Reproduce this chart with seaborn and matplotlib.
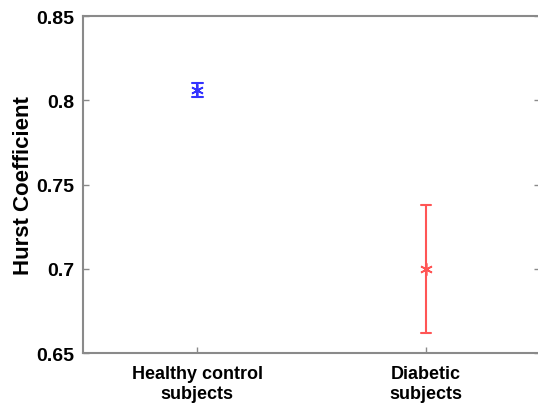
import matplotlib
matplotlib.use("Agg")
import matplotlib.pyplot as plt
import seaborn as sns
import pandas as pd

groups = ["Healthy control\nsubjects", "Diabetic\nsubjects"]
means = [0.806, 0.700]
errs = [0.004, 0.038]
colors = ["#3333ff", "#ff5555"]
yticks = [0.65, 0.70, 0.75, 0.80, 0.85]
ytick_labels = ["0.65", "0.7", "0.75", "0.8", "0.85"]
ylabel = "Hurst Coefficient"

# build a table whose mean is the group value and whose min/max are the error limits
rows = []
for g, m, e in zip(groups, means, errs):
    rows.append({"group": g, "value": m - e})
    rows.append({"group": g, "value": m + e})
df = pd.DataFrame(rows)

sns.set_theme(style="white")
plt.rcParams["font.family"] = ["Liberation Sans", "DejaVu Sans"]
plt.rcParams["text.color"] = "black"
plt.rcParams["axes.labelcolor"] = "black"
plt.rcParams["xtick.color"] = "black"
plt.rcParams["ytick.color"] = "black"

fig = plt.figure(figsize=(5.38, 4.06), dpi=100)
ax = fig.add_axes([83 / 538, 52 / 406, (540.5 - 83) / 538, 337 / 406])

sns.pointplot(
    data=df, x="group", y="value", hue="group", order=groups, hue_order=groups,
    palette=colors, estimator="mean",
    errorbar=lambda v: (v.min(), v.max()),
    markers="o", linestyles="none", capsize=0.045,
    err_kws={"linewidth": 1.5},
    legend=False, ax=ax,
)

# MATLAB-style asterisk markers
for ln in ax.lines:
    if ln.get_marker() not in (None, "None", "", " "):
        c = ln.get_color()
        ln.set_marker((6, 2, 0))
        ln.set_markersize(9)
        ln.set_markeredgewidth(1.2)
        ln.set_markeredgecolor(c)
        ln.set_markerfacecolor(c)

ax.set_xlim(-0.5, 1.5)
ax.set_ylim(0.65, 0.85)
ax.set_yticks(yticks)
ax.set_yticklabels(ytick_labels, fontsize=14, fontweight="bold", color="black")
ax.set_xticks(range(len(groups)))
ax.set_xticklabels(groups, fontsize=13, fontweight="bold", linespacing=1.2, color="black")
ax.set_xlabel("")
ax.set_ylabel(ylabel, fontsize=16, fontweight="bold", labelpad=2, color="black")

for s in ax.spines.values():
    s.set_color("#8a8a8a")
    s.set_linewidth(1.5)
ax.tick_params(axis="both", direction="in", length=4, width=1, color="#8a8a8a",
               left=True, right=True, bottom=True, top=False, pad=6)
ax.tick_params(axis="x", pad=9)

fig.savefig("out.png", dpi=100)
